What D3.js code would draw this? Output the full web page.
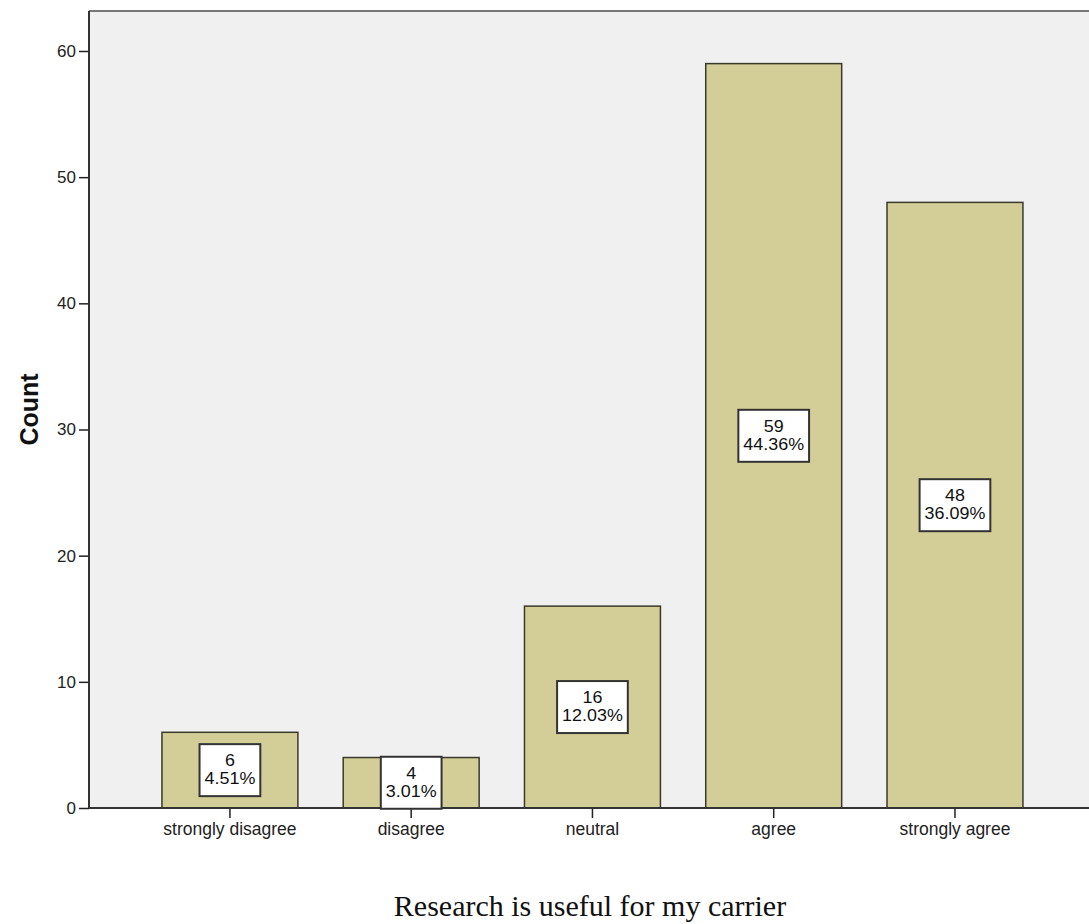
<!DOCTYPE html>
<html>
<head>
<meta charset="utf-8">
<script src="https://cdnjs.cloudflare.com/ajax/libs/d3/7.8.5/d3.min.js"></script>
<style>
  html, body { margin: 0; padding: 0; background: #ffffff; }
  svg { display: block; }
</style>
</head>
<body>
<svg id="chart" width="1089" height="924"></svg>
<script>
// Response categories and counts
const categories = ["strongly disagree", "disagree", "neutral", "agree", "strongly agree"];
const counts = [6, 4, 16, 59, 48];
const percents = ["4.51%", "3.01%", "12.03%", "44.36%", "36.09%"];
const yTicks = [0, 10, 20, 30, 40, 50, 60];
const xTitle = "Research is useful for my carrier";
const yTitle = "Count";

const svg = d3.select("#chart");
const plot = { left: 89, top: 11, right: 1089, bottom: 808 };
const sans = "Arial, 'Liberation Sans', sans-serif";

const x = d3.scaleBand()
  .domain(categories)
  .range([139.3, 1045.6])
  .paddingInner(0.25)
  .paddingOuter(0.125);

const y = d3.scaleLinear()
  .domain([0, 63.17])
  .range([plot.bottom, plot.top]);

// Plot background
svg.append("rect")
  .attr("x", plot.left).attr("y", plot.top)
  .attr("width", plot.right - plot.left).attr("height", plot.bottom - plot.top)
  .attr("fill", "#f0f0f0");

// Top frame line
svg.append("line")
  .attr("x1", plot.left).attr("x2", plot.right)
  .attr("y1", plot.top).attr("y2", plot.top)
  .attr("stroke", "#777").attr("stroke-width", 2);

// Bars
svg.append("g").selectAll("rect")
  .data(counts)
  .join("rect")
  .attr("x", (d, i) => x(categories[i]))
  .attr("y", d => y(d))
  .attr("width", x.bandwidth())
  .attr("height", d => y(0) - y(d))
  .attr("fill", "#d3ce97")
  .attr("stroke", "#3a3a2a")
  .attr("stroke-width", 1.5);

// Y axis
const yAxis = svg.append("g")
  .attr("transform", `translate(${plot.left},0)`)
  .call(d3.axisLeft(y).tickValues(yTicks).tickSize(10).tickSizeOuter(0).tickPadding(3));
yAxis.select(".domain").remove();
yAxis.selectAll(".tick line").attr("stroke", "#222").attr("stroke-width", 1.5);
yAxis.selectAll("text")
  .attr("font-family", sans)
  .attr("font-size", 17).attr("fill", "#222");
svg.append("line")
  .attr("x1", plot.left).attr("x2", plot.left)
  .attr("y1", plot.top).attr("y2", plot.bottom)
  .attr("stroke", "#333").attr("stroke-width", 2);

// X axis
const xAxis = svg.append("g")
  .attr("transform", `translate(0,${plot.bottom})`)
  .call(d3.axisBottom(x).tickSize(10).tickSizeOuter(0).tickPadding(5));
xAxis.select(".domain").remove();
xAxis.selectAll(".tick line").attr("stroke", "#222").attr("stroke-width", 1.5);
xAxis.selectAll("text")
  .attr("font-family", sans)
  .attr("font-size", 17.5).attr("fill", "#222");
svg.append("line")
  .attr("x1", plot.left).attr("x2", plot.right)
  .attr("y1", plot.bottom).attr("y2", plot.bottom)
  .attr("stroke", "#333").attr("stroke-width", 2);

// Value labels: count and percentage in a white box at half bar height
const labels = svg.append("g").selectAll("g")
  .data(counts)
  .join("g")
  .attr("transform", (d, i) => `translate(${x(categories[i]) + x.bandwidth() / 2},${(y(d) + y(0)) / 2})`);

labels.each(function(d, i) {
  const g = d3.select(this);
  const box = g.append("rect");
  const lines = g.append("g").attr("transform", "scale(1.12,1)");
  const top = lines.append("text")
    .attr("text-anchor", "middle")
    .attr("font-family", sans)
    .attr("font-size", 16).attr("fill", "#111")
    .attr("y", -4).text(d);
  const bottom = lines.append("text")
    .attr("text-anchor", "middle")
    .attr("font-family", sans)
    .attr("font-size", 16).attr("fill", "#111")
    .attr("y", 14).text(percents[i]);
  const tw = Math.max(top.node().getBBox().width, bottom.node().getBBox().width) * 1.12;
  const w = tw + 10, h = 52;
  box.attr("x", -w / 2).attr("y", -h / 2)
    .attr("width", w).attr("height", h)
    .attr("fill", "#ffffff")
    .attr("stroke", "#333").attr("stroke-width", 2);
});

// Axis titles
svg.append("text")
  .attr("transform", `translate(38,${(plot.top + plot.bottom) / 2}) rotate(-90)`)
  .attr("text-anchor", "middle")
  .attr("font-family", sans)
  .attr("font-weight", "bold")
  .attr("font-size", 25).attr("fill", "#111")
  .text(yTitle);

svg.append("text")
  .attr("x", 590).attr("y", 916)
  .attr("text-anchor", "middle")
  .attr("font-family", "'Times New Roman', 'Liberation Serif', serif")
  .attr("font-size", 30).attr("fill", "#111")
  .text(xTitle);
</script>
</body>
</html>
